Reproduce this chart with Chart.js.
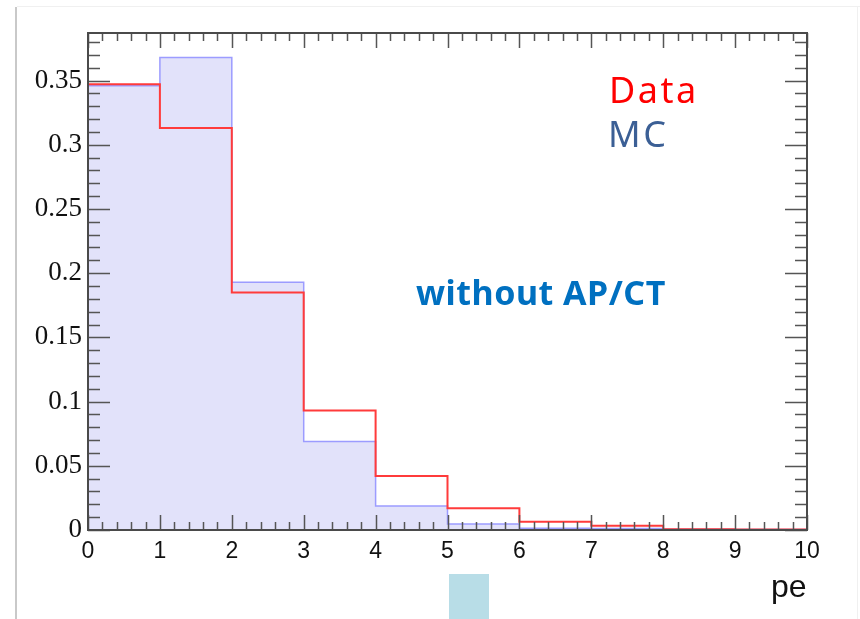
<!DOCTYPE html>
<html>
<head>
<meta charset="utf-8">
<script src="https://cdn.jsdelivr.net/npm/chart.js@4.4.1/dist/chart.umd.min.js"></script>
<style>
  html, body { margin: 0; padding: 0; background: #fff; }
  #wrap { width: 860px; height: 619px; position: relative; }
</style>
</head>
<body>
<div id="wrap"><canvas id="peChart"></canvas></div>
<script>
// bin contents, one value per unit bin from 0 to 10 pe
const binEdges = [0, 1, 2, 3, 4, 5, 6, 7, 8, 9, 10];
const dataValues = [0.347, 0.313, 0.185, 0.093, 0.042, 0.017, 0.0065, 0.0034, 0.0006, 0.0003];
const mcValues = [0.346, 0.368, 0.193, 0.069, 0.0187, 0.0047, 0.0014, 0.0012, 0.0006, 0.0004];

// axis ticks
const xTicks = [0, 1, 2, 3, 4, 5, 6, 7, 8, 9, 10];
const yTicks = [0, 0.05, 0.1, 0.15, 0.2, 0.25, 0.3, 0.35];
const yTickLabels = ['0', '0.05', '0.1', '0.15', '0.2', '0.25', '0.3', '0.35'];

// turn bin contents into a closed step outline: up at the first edge, down at the last
function histPoints(values) {
    const pts = [{ x: binEdges[0], y: 0 }];
    values.forEach((v, i) => pts.push({ x: binEdges[i], y: v }));
    pts.push({ x: binEdges[binEdges.length - 1], y: 0 });
    return pts;
}

// ROOT-style frame with inward ticks on all four sides
const rootFrame = {
    id: 'rootFrame',
    afterDatasetsDraw(chart) {
        const ctx = chart.ctx;
        const { left, right, top, bottom } = chart.chartArea;
        const xs = chart.scales.x, ys = chart.scales.y;
        ctx.save();
        ctx.strokeStyle = '#555';
        ctx.lineWidth = 1.5;
        ctx.beginPath();
        for (let k = 0; k <= 50; k++) {
            const px = Math.round(xs.getPixelForValue(k * 0.2)) + 0.5;
            const len = k % 5 === 0 ? 15 : 8;
            ctx.moveTo(px, bottom); ctx.lineTo(px, bottom - len);
            ctx.moveTo(px, top); ctx.lineTo(px, top + len);
        }
        for (let k = 0; k * 0.01 <= ys.max; k++) {
            const py = Math.round(ys.getPixelForValue(k * 0.01)) + 0.5;
            const len = k % 5 === 0 ? 22 : 12;
            ctx.moveTo(left, py); ctx.lineTo(left + len, py);
            ctx.moveTo(right, py); ctx.lineTo(right - len, py);
        }
        ctx.stroke();
        ctx.lineWidth = 2;
        ctx.strokeStyle = '#4a4a4a';
        ctx.strokeRect(left, top, right - left, bottom - top);
        ctx.restore();
    }
};

// slide decorations and text labels
const annotations = {
    id: 'annotations',
    beforeDraw(chart) {
        const ctx = chart.ctx;
        ctx.save();
        ctx.fillStyle = '#c9c9c9';
        ctx.fillRect(15, 7, 2, 612);
        ctx.fillStyle = '#f0f0f0';
        ctx.fillRect(17, 6, 843, 1);
        ctx.fillRect(857, 7, 1, 612);
        ctx.fillStyle = '#b8dde7';
        ctx.fillRect(449, 574, 40, 45);
        ctx.restore();
    },
    afterDraw(chart) {
        const ctx = chart.ctx;
        ctx.save();
        ctx.textBaseline = 'alphabetic';
        ctx.textAlign = 'left';
        ctx.letterSpacing = '2.5px';
        ctx.fillStyle = '#ff0000';
        ctx.font = '36px "Noto Sans"';
        ctx.fillText('Data', 609, 103);
        ctx.fillStyle = '#3b5f95';
        ctx.fillText('MC', 608, 147);
        ctx.letterSpacing = '0.5px';
        ctx.fillStyle = '#0070c0';
        ctx.font = 'bold 34px "Noto Sans"';
        ctx.fillText('without AP/CT', 416, 305);
        ctx.letterSpacing = '0px';
        ctx.fillStyle = '#111';
        ctx.font = '32px "Liberation Sans"';
        ctx.fillText('pe', 771, 597);
        ctx.restore();
    }
};

const ctx = document.getElementById('peChart').getContext('2d');
const peChart = new Chart(ctx, {
    type: 'line',
    data: {
        datasets: [{
            label: 'Data',
            data: histPoints(dataValues),
            stepped: true,
            borderColor: '#ff3b3b',
            borderWidth: 2,
            pointRadius: 0,
            fill: false
        }, {
            label: 'MC',
            data: histPoints(mcValues),
            stepped: true,
            borderColor: '#9c9cff',
            borderWidth: 1.5,
            backgroundColor: '#e2e2fa',
            pointRadius: 0,
            fill: 'origin'
        }]
    },
    options: {
        responsive: true,
        maintainAspectRatio: false,
        animation: false,
        layout: { padding: { top: 33, right: 53, left: 0, bottom: 0 } },
        plugins: {
            legend: { display: false },
            tooltip: { enabled: false }
        },
        scales: {
            x: {
                type: 'linear',
                min: 0,
                max: 10,
                grid: { display: false, drawTicks: false },
                border: { display: false },
                ticks: {
                    color: '#111',
                    font: { family: 'Liberation Sans', size: 23 },
                    padding: 8,
                    maxRotation: 0,
                    autoSkip: false
                },
                afterBuildTicks: s => { s.ticks = xTicks.map(v => ({ value: v })); },
                afterFit: s => { s.height = 89; }
            },
            y: {
                min: 0,
                max: 0.387,
                grid: { display: false, drawTicks: false },
                border: { display: false },
                ticks: {
                    color: '#111',
                    font: { family: 'Liberation Serif', size: 27 },
                    padding: 6,
                    autoSkip: false,
                    callback: v => yTickLabels[yTicks.indexOf(v)]
                },
                afterBuildTicks: s => { s.ticks = yTicks.map(v => ({ value: v })); },
                afterFit: s => { s.width = 88; }
            }
        }
    },
    plugins: [annotations, rootFrame]
});
</script>
</body>
</html>
